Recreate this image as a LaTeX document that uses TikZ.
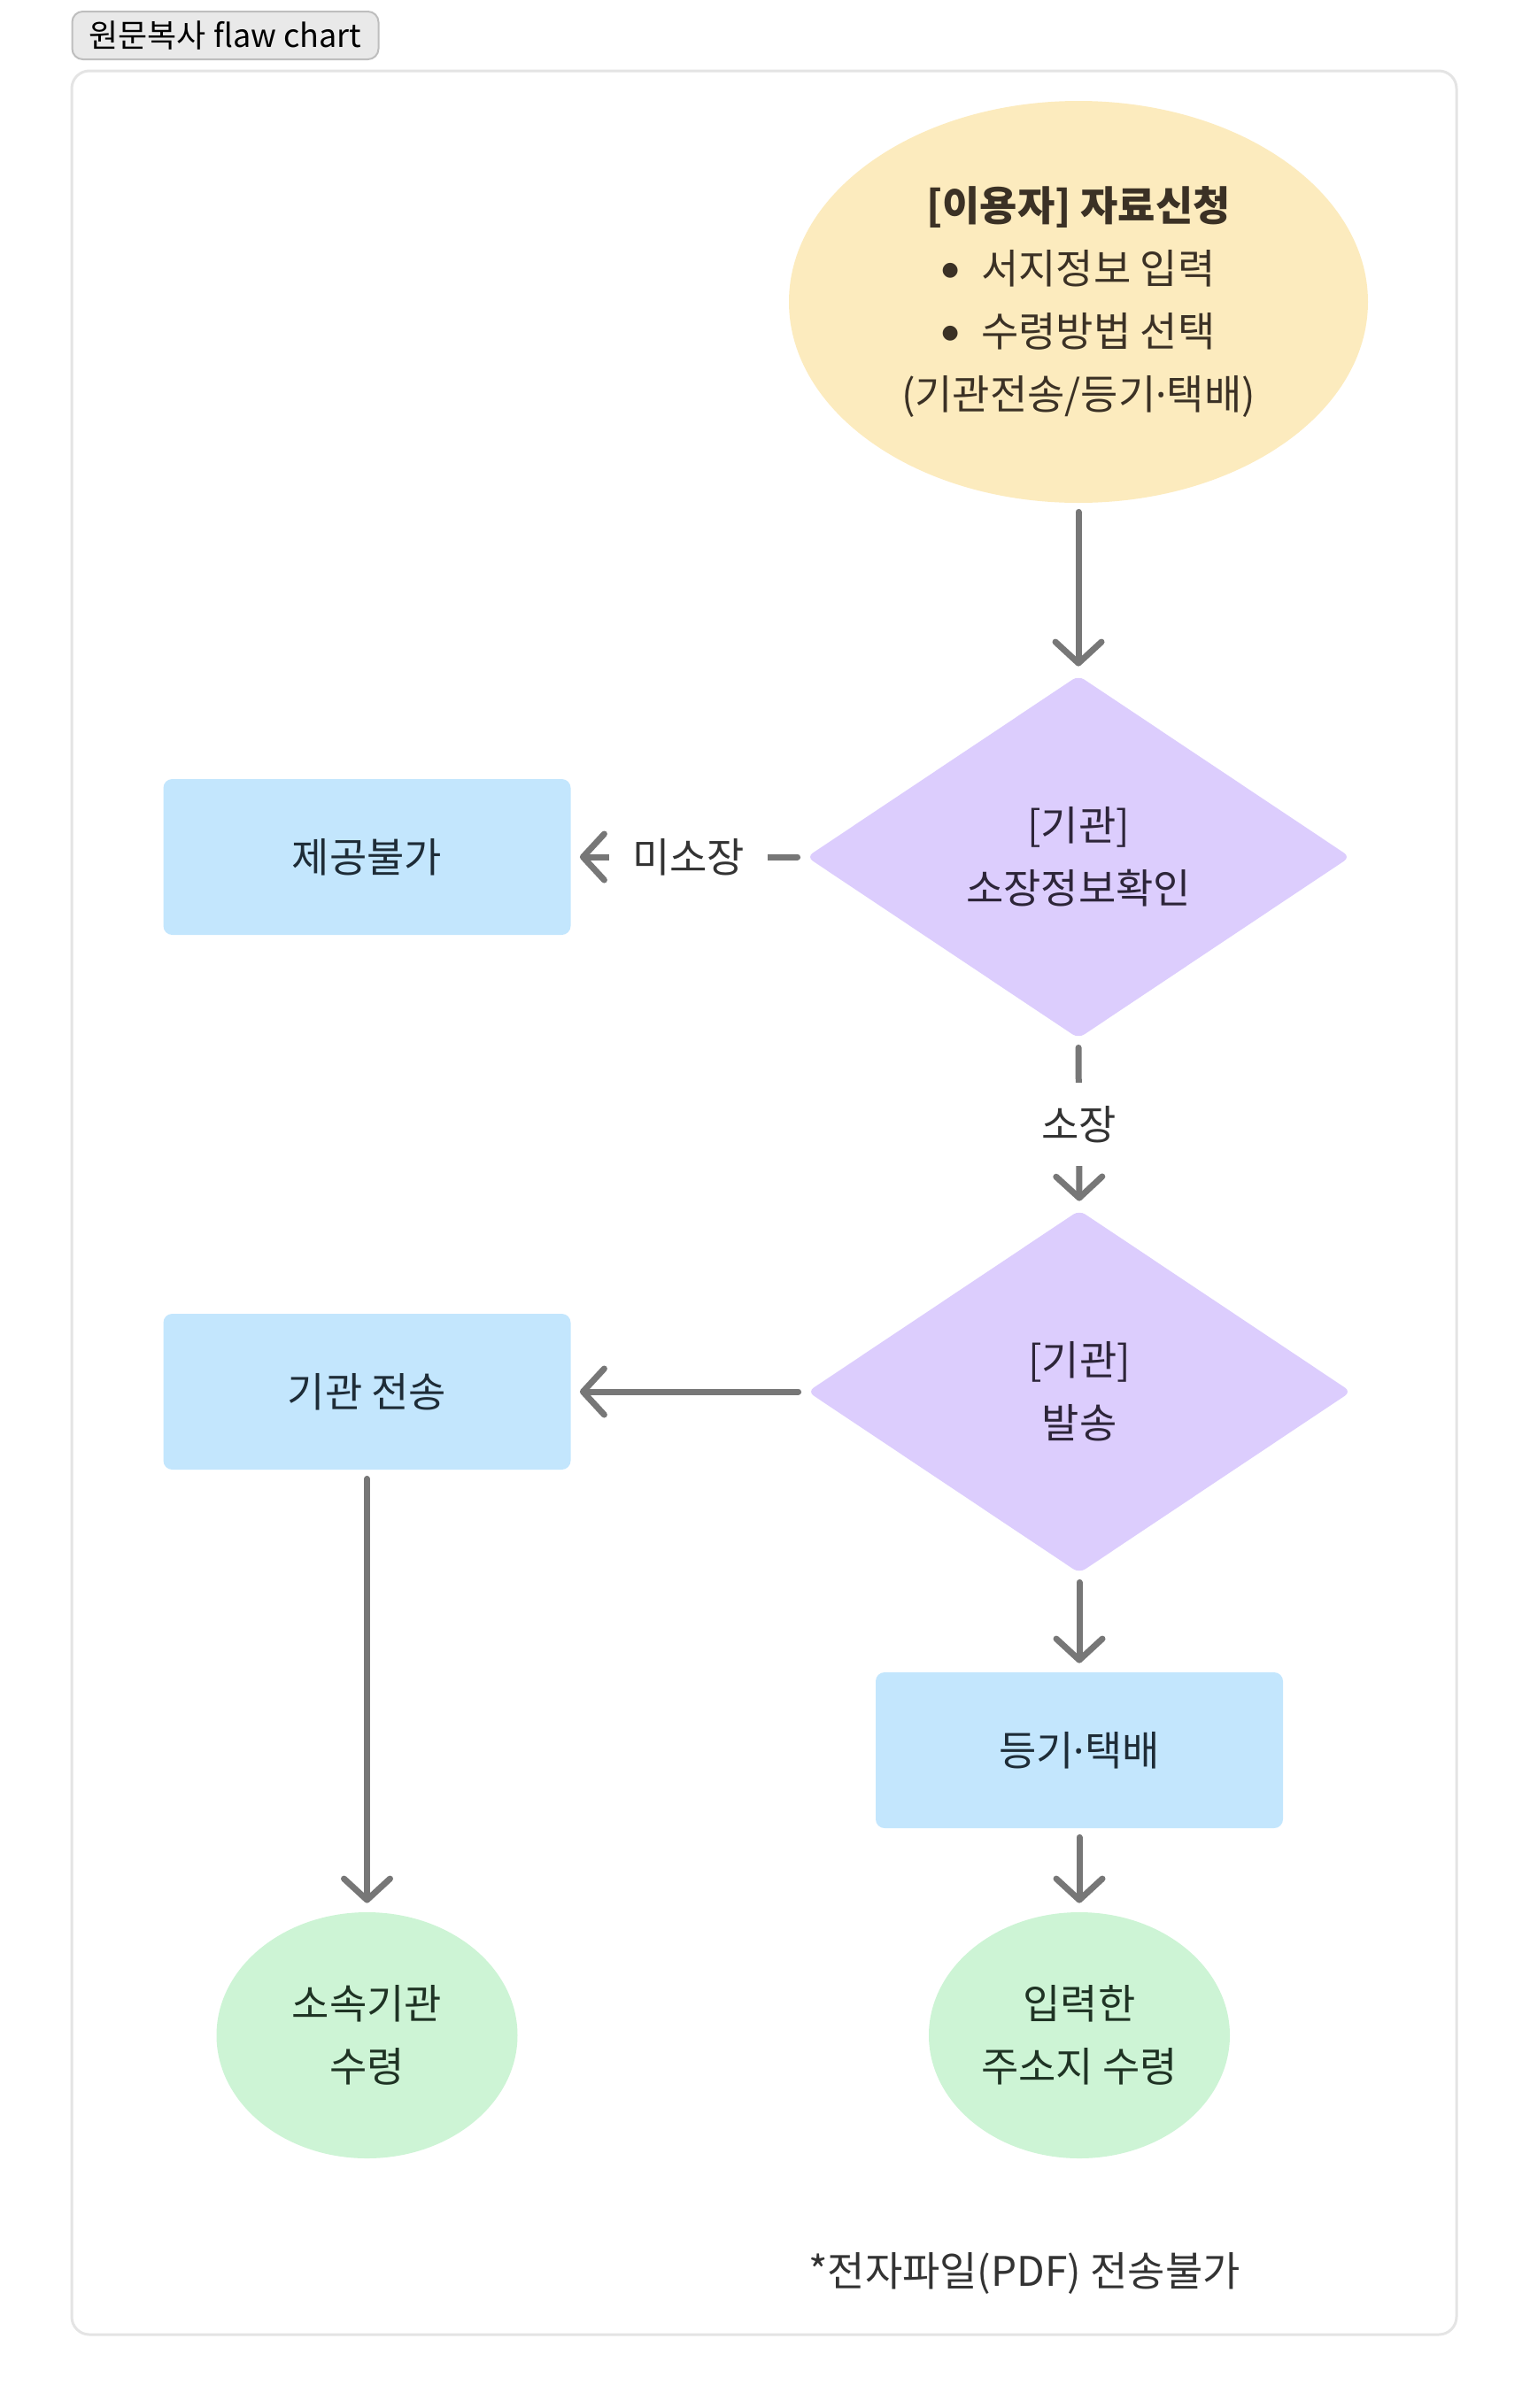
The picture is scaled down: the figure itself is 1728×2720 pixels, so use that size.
\documentclass[tikz,border=0pt]{standalone}
\usepackage{fontspec}
\setmainfont{Noto Sans CJK KR}
\newfontfamily\latinfont{Noto Sans}
\newfontfamily\symfont{DejaVu Sans}
\newcommand{\middot}{{\latinfont ·}}
\newcommand{\bulletmark}{\raisebox{4.5pt}{\symfont\fontsize{11pt}{11pt}\selectfont ●}\hspace{0.55em}}
\usetikzlibrary{shapes.geometric,arrows.meta}
\definecolor{lineGray}{HTML}{777777}
\definecolor{frameGray}{HTML}{E4E4E4}
\definecolor{tagFill}{HTML}{E9E9E9}
\definecolor{tagLine}{HTML}{BEBEBE}
\definecolor{reqFill}{HTML}{FCEBBE}
\definecolor{reqText}{HTML}{3B3125}
\definecolor{decFill}{HTML}{DCCDFD}
\definecolor{decText}{HTML}{2D2539}
\definecolor{boxFill}{HTML}{C3E6FD}
\definecolor{boxText}{HTML}{1E2C37}
\definecolor{endFill}{HTML}{CDF4D5}
\definecolor{endText}{HTML}{1F3324}
\definecolor{labText}{HTML}{333333}
\tikzset{
	yellow node/.style={ellipse, fill=reqFill, text=reqText, inner sep=0pt, minimum width=327pt, minimum height=227pt, align=center},
	purple node/.style={diamond, fill=decFill, text=decText, inner sep=0pt, minimum width=307pt, minimum height=205pt, rounded corners=4pt, align=center},
	blue node/.style={rectangle, fill=boxFill, text=boxText, minimum width=230pt, minimum height=88pt, rounded corners=5pt},
	green node/.style={ellipse, fill=endFill, text=endText, inner sep=0pt, minimum width=170pt, minimum height=139pt, align=center},
	flow arrow/.style={draw=lineGray, line width=3.5pt, line cap=round, -{Straight Barb[length=12pt, width=26pt, round]}, shorten <=5pt, shorten >=5pt},
	flow label/.style={fill=white, text=labText},
}

\begin{document}
\begin{tikzpicture}[x=0.5pt, y=-0.5pt, every node/.style={font=\fontsize{23pt}{35.5pt}\selectfont}]

  \useasboundingbox (0,0) rectangle (1728,2720);
  \draw[draw=frameGray, line width=1.5pt, rounded corners=10pt] (81,80) rectangle (1645,2637);
  \node (tag)[rectangle, fill=tagFill, draw=tagLine, line width=1pt, rounded corners=6pt, minimum width=173pt, minimum height=27pt, font=\fontsize{18pt}{20pt}\selectfont] at (254.5,40) {원문복사 flaw chart};

  \node (req)[yellow node] at (1218,341) {\textbf{[이용자] 자료신청}\\\bulletmark 서지정보 입력\\\bulletmark 수령방법 선택\\(기관전송/등기\middot 택배)};
  \node (check)[purple node] at (1218,968) {[기관]\\소장정보확인};
  \node (nostock)[blue node] at (414.5,968) {제공불가};
  \node (send)[purple node] at (1219,1572) {[기관]\\발송};
  \node (inst)[blue node] at (414.5,1572) {기관 전송};
  \node (post)[blue node] at (1219,1977) {등기\middot 택배};
  \node (recvA)[green node] at (414.5,2299) {소속기관\\수령};
  \node (recvB)[green node] at (1219,2299) {입력한\\주소지 수령};
  \node (note)[text=labText] at (1157,2568) {*전자파일(PDF) 전송불가};

  \draw[flow arrow] (req.south) -- (check.north);
  \draw[flow arrow] (check.west) -- node[flow label, inner xsep=13pt]{미소장} (nostock.east);
  \draw[flow arrow] (check.south) -- node[flow label, inner ysep=13pt]{소장} (send.north);
  \draw[flow arrow] (send.west) -- (inst.east);
  \draw[flow arrow] (send.south) -- (post.north);
  \draw[flow arrow] (inst.south) -- (recvA.north);
  \draw[flow arrow] (post.south) -- (recvB.north);

\end{tikzpicture}
\end{document}
